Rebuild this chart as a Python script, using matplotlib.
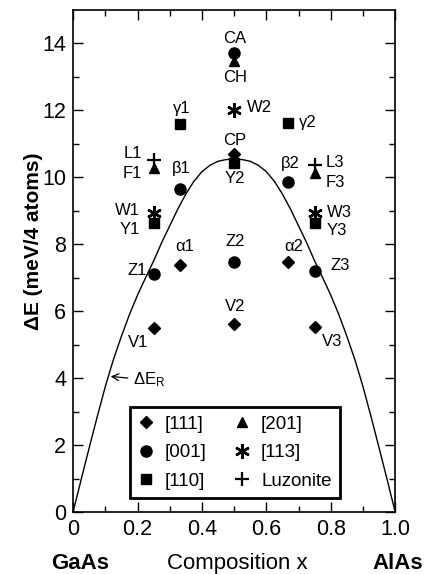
import numpy as np
import matplotlib.pyplot as plt
from matplotlib.lines import Line2D

plt.rcParams['font.family'] = ['Liberation Sans', 'DejaVu Sans']
plt.rcParams['mathtext.fontset'] = 'custom'
plt.rcParams['mathtext.rm'] = 'Liberation Sans'
plt.rcParams['mathtext.it'] = 'Liberation Sans:italic'

# === data ===
# Delta E_R curve (meV/4 atoms), read every 0.025 in x
curve_x = [0.0, 0.025, 0.05, 0.075, 0.1, 0.125, 0.15, 0.175, 0.2, 0.225,
           0.25, 0.275, 0.3, 0.325, 0.35, 0.375, 0.4, 0.425, 0.45, 0.475,
           0.5, 0.525, 0.55, 0.575, 0.6, 0.625, 0.65, 0.675, 0.7, 0.725,
           0.75, 0.775, 0.8, 0.825, 0.85, 0.875, 0.9, 0.925, 0.95, 0.975, 1.0]
curve_e = [0.0, 0.97, 1.92, 2.85, 3.75, 4.55, 5.25, 5.9, 6.48, 7.0,
           7.5, 8.05, 8.55, 9.05, 9.5, 9.88, 10.17, 10.36, 10.48, 10.53,
           10.55, 10.53, 10.48, 10.36, 10.17, 9.88, 9.5, 9.05, 8.55, 8.05,
           7.5, 7.0, 6.48, 5.9, 5.25, 4.55, 3.75, 2.85, 1.92, 0.97, 0.0]

# [111] superlattices (diamonds): CP, alpha1, alpha2, V1, V2, V3
x_111 = [0.5, 1/3, 2/3, 0.25, 0.5, 0.75]
e_111 = [10.71, 7.39, 7.47, 5.50, 5.63, 5.53]
# [001] (circles): CA, beta1, beta2, Z1, Z2, Z3
x_001 = [0.5, 1/3, 2/3, 0.25, 0.5, 0.75]
e_001 = [13.71, 9.66, 9.86, 7.10, 7.47, 7.19]
# [110] (squares): gamma1, gamma2, Y1, Y2, Y3
x_110 = [1/3, 2/3, 0.25, 0.5, 0.75]
e_110 = [11.60, 11.63, 8.64, 10.44, 8.64]
# [201] (triangles): CH, F1, F3
x_201 = [0.5, 0.25, 0.75]
e_201 = [13.49, 10.28, 10.13]
# [113] (asterisks): W1, W2, W3
x_113 = [0.25, 0.5, 0.75]
e_113 = [8.92, 12.02, 8.92]
# luzonite (plus): L1, L3
x_luz = [0.25, 0.75]
e_luz = [10.53, 10.36]

legend_labels = ['[111]', '[001]', '[110]', '[201]', '[113]', 'Luzonite']

# structure names and where they are written: (text, x, y, ha)
names = [
    ("CA", 0.503, 14.14, "center"), ("CH", 0.503, 12.98, "center"),
    ("W2", 0.539, 12.10, "left"), ("γ1", 0.337, 12.05, "center"),
    ("γ2", 0.70, 11.65, "left"), ("CP", 0.503, 11.10, "center"),
    ("Y2", 0.503, 9.96, "center"), ("L1", 0.213, 10.70, "right"),
    ("F1", 0.213, 10.11, "right"), ("β1", 0.337, 10.26, "center"),
    ("β2", 0.674, 10.41, "center"), ("L3", 0.783, 10.43, "left"),
    ("F3", 0.783, 9.86, "left"), ("W1", 0.208, 9.01, "right"),
    ("Y1", 0.208, 8.44, "right"), ("W3", 0.788, 8.95, "left"),
    ("Y3", 0.788, 8.40, "left"), ("α1", 0.348, 7.92, "center"),
    ("Z2", 0.503, 8.09, "center"), ("α2", 0.684, 7.94, "center"),
    ("Z1", 0.229, 7.22, "right"), ("Z3", 0.798, 7.37, "left"),
    ("V2", 0.503, 6.15, "center"), ("V1", 0.203, 5.05, "center"),
    ("V3", 0.803, 5.08, "center"),
]

fig = plt.figure(figsize=(4.3, 5.74), dpi=100)
ax = fig.add_axes([0.170, 0.108, 0.749, 0.8746])

ax.plot(curve_x, curve_e, color='black', lw=1.0)

kw = dict(linestyle='none', color='black')
styles = [
    dict(marker='D', ms=6.5),
    dict(marker='o', ms=8),
    dict(marker='s', ms=6.5),
    dict(marker='^', ms=7),
    dict(marker=(6, 2, 0), ms=10.5, mew=1.8),
    dict(marker='+', ms=10.5, mew=1.6),
]
series = [(x_111, e_111), (x_001, e_001), (x_110, e_110),
          (x_201, e_201), (x_113, e_113), (x_luz, e_luz)]
for (xs, es), st in zip(series, styles):
    ax.plot(xs, es, **st, **kw)

for txt, tx, ty, ha in names:
    ax.text(tx, ty, txt, ha=ha, va='center', fontsize=12)

ax.annotate(r'$\Delta$E$_{\mathrm{R}}$', xy=(0.108, 4.06), xytext=(0.187, 3.94),
            ha='left', va='center', fontsize=12,
            arrowprops=dict(arrowstyle='->', color='black', lw=0.9))

ax.set_xlim(0, 1.0)
ax.set_ylim(0, 15)
ax.set_xticks([0, 0.2, 0.4, 0.6, 0.8, 1.0])
ax.set_xticklabels(['0', '0.2', '0.4', '0.6', '0.8', '1.0'])
ax.set_xticks(np.arange(0.1, 1.0, 0.2), minor=True)
ax.set_yticks(range(0, 15, 2))
ax.set_yticks(range(1, 15, 2), minor=True)
ax.tick_params(which='both', direction='in', top=True, right=True, width=1.0,
               labelsize=15.5)
ax.tick_params(which='major', length=7, pad=5)
ax.tick_params(which='minor', length=4)
for s in ax.spines.values():
    s.set_linewidth(1.2)

ax.set_ylabel('ΔE (meV/4 atoms)', fontsize=15, fontweight='bold')
ax.yaxis.set_label_coords(-0.095, 0.54)

fig.text(0.551, 0.008, 'Composition x', ha='center', va='baseline', fontsize=16)
fig.text(0.186, 0.008, 'GaAs', ha='center', va='baseline', fontsize=16,
         fontweight='bold')
fig.text(0.926, 0.008, 'AlAs', ha='center', va='baseline', fontsize=16,
         fontweight='bold')

handles = [Line2D([], [], **st, **kw) for st in styles]
leg = ax.legend(handles, legend_labels, ncol=2, loc='lower left',
                bbox_to_anchor=(0.177, 0.028), borderaxespad=0, fontsize=13.5,
                frameon=True, fancybox=False, edgecolor='black',
                handlelength=0.8, handletextpad=0.6, columnspacing=1.5,
                labelspacing=0.6, borderpad=0.45)
leg.get_frame().set_linewidth(2.0)
leg.get_frame().set_alpha(None)

fig.savefig('out.png', dpi=100)
